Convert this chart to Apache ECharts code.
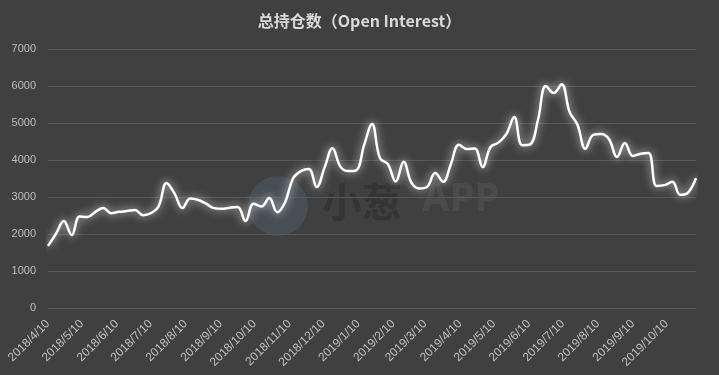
<!DOCTYPE html>
<html><head><meta charset="utf-8">
<script src="https://cdn.jsdelivr.net/npm/echarts@6/dist/echarts.min.js"></script>
<style>html,body{margin:0;padding:0;background:#404040;}#c{width:719px;height:375px;}</style>
</head><body><div id="c"></div>
<script>
const titleText = '总持仓数（Open Interest）';
const dates = [
'2018-04-10','2018-04-17','2018-04-24','2018-05-01','2018-05-08','2018-05-15','2018-05-22','2018-05-29',
'2018-06-05','2018-06-12','2018-06-19','2018-06-26','2018-07-03','2018-07-10','2018-07-17','2018-07-24',
'2018-07-31','2018-08-07','2018-08-14','2018-08-21','2018-08-28','2018-09-04','2018-09-11','2018-09-18',
'2018-09-25','2018-10-02','2018-10-09','2018-10-16','2018-10-23','2018-10-30','2018-11-06','2018-11-13',
'2018-11-20','2018-11-27','2018-12-04','2018-12-11','2018-12-18','2018-12-25','2019-01-01','2019-01-08',
'2019-01-15','2019-01-22','2019-01-29','2019-02-05','2019-02-12','2019-02-19','2019-02-26','2019-03-05',
'2019-03-12','2019-03-19','2019-03-26','2019-04-02','2019-04-09','2019-04-16','2019-04-23','2019-04-30',
'2019-05-07','2019-05-14','2019-05-21','2019-05-28','2019-06-04','2019-06-11','2019-06-18','2019-06-25',
'2019-07-02','2019-07-09','2019-07-16','2019-07-23','2019-07-30','2019-08-06','2019-08-13','2019-08-20',
'2019-08-27','2019-09-03','2019-09-10','2019-09-17','2019-09-24','2019-10-01','2019-10-08','2019-10-15',
'2019-10-22','2019-10-29','2019-11-05'];
const openInterest = [
1680,2000,2350,1970,2470,2460,2600,2700,2560,2600,2620,2650,2510,2560,2750,3380,
3100,2700,2960,2920,2820,2700,2680,2710,2730,2350,2820,2740,2970,2590,2860,3500,
3700,3760,3270,3800,4320,3820,3700,3720,4400,4970,4050,3890,3420,3950,3380,3230,
3280,3650,3410,3900,4410,4300,4310,3810,4350,4470,4700,5160,4400,4420,5080,6000,
5810,6050,5300,4950,4300,4680,4700,4560,4080,4460,4110,4170,4190,3300,3320,3410,
3060,3120,3510];
const tickDates = ['2018-04-10','2018-05-10','2018-06-10','2018-07-10','2018-08-10','2018-09-10',
'2018-10-10','2018-11-10','2018-12-10','2019-01-10','2019-02-10','2019-03-10','2019-04-10',
'2019-05-10','2019-06-10','2019-07-10','2019-08-10','2019-09-10','2019-10-10'];

function ts(s){const p=s.split('-').map(Number);return new Date(p[0],p[1]-1,p[2]).getTime();}
const chart = echarts.init(document.getElementById('c'));
chart.setOption({
  backgroundColor:'#404040',
  animation:false,
  title:{text:titleText,left:'center',top:8,textStyle:{color:'#d9d9d9',fontSize:16,fontWeight:'bold',fontFamily:'Noto Sans CJK SC'}},
  grid:{left:48,right:23,top:49,bottom:67,containLabel:false},
  graphic:[
    {type:'circle',shape:{cx:278,cy:206,r:30},style:{fill:'rgba(90,120,150,0.25)'},z:-1,silent:true},
    {type:'text',left:322,top:182,style:{text:'小葱',fill:'#343434',font:'bold 40px "Noto Sans CJK SC"'},z:-1,silent:true},
    {type:'text',left:422,top:180,style:{text:'APP',fill:'#4b4b4b',font:'bold 40px "Noto Sans"'},z:-1,silent:true}
  ],
  xAxis:{type:'value',min:ts(dates[0]),max:ts(dates[dates.length-1]),
    axisLine:{show:false},axisTick:{show:false},splitLine:{show:false},
    axisLabel:{customValues:tickDates.map(ts),rotate:45,color:'#bfbfbf',fontSize:12,fontFamily:'Liberation Sans',margin:14,
      formatter:function(v){const d=new Date(v);return d.getFullYear()+'/'+(d.getMonth()+1)+'/'+d.getDate();},
      hideOverlap:false}},
  yAxis:{type:'value',min:0,max:7000,interval:1000,
    axisLine:{show:false},axisTick:{show:false},
    splitLine:{lineStyle:{color:'#595959',width:1}},
    axisLabel:{color:'#bfbfbf',fontSize:11,fontFamily:'Liberation Sans',margin:12,formatter:function(v){return String(v);}}},
  series:[{type:'line',data:dates.map((d,i)=>[ts(d),openInterest[i]]),smooth:0.4,showSymbol:false,
    lineStyle:{color:'#ffffff',width:2.5,shadowColor:'rgba(255,255,255,0.85)',shadowBlur:9}}]
});
</script></body></html>
